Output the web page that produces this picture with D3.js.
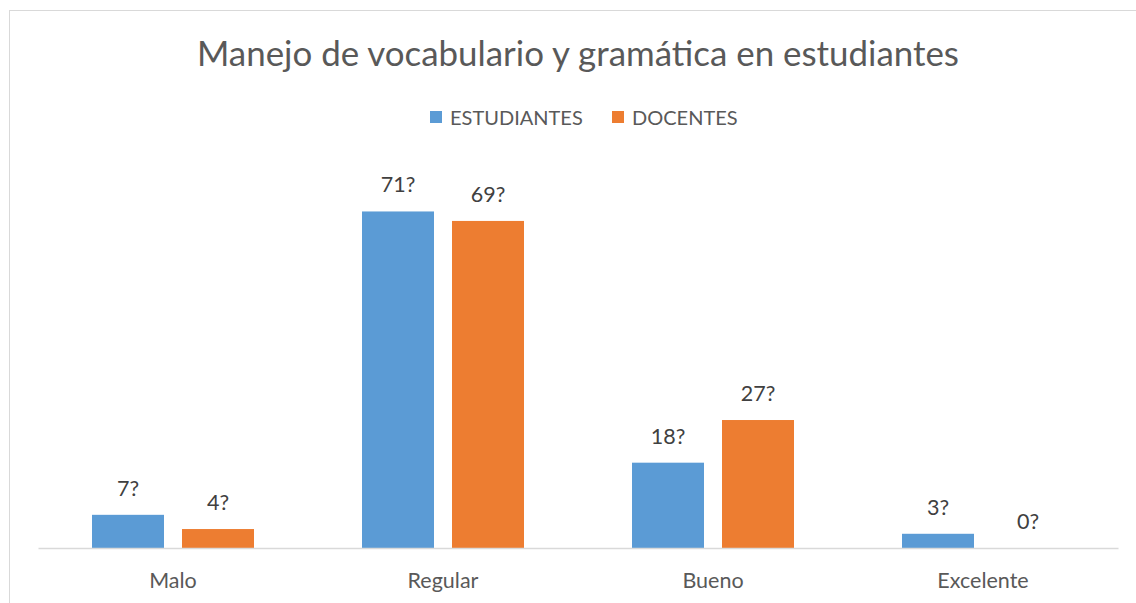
<!DOCTYPE html>
<html>
<head>
<meta charset="utf-8">
<script src="https://cdn.jsdelivr.net/npm/d3@7"></script>
<style>
  body { margin: 0; background: #fff; }
  svg { display: block; font-family: Lato, "Open Sans", sans-serif; }
</style>
</head>
<body>
<svg id="chart" width="1136" height="603"></svg>
<script>
const categories = ["Malo", "Regular", "Bueno", "Excelente"]
const seriesNames = ["ESTUDIANTES", "DOCENTES"]
const estudiantes = [7, 71, 18, 3]
const docentes = [4, 69, 27, 0]
const colors = ["#5b9bd5", "#ed7d31"]

const svg = d3.select("#chart")

// frame of the chart area (runs off the right and bottom of the picture)
svg.append("rect")
    .attr("x", 9.5).attr("y", 10.5)
    .attr("width", 1300).attr("height", 700)
    .attr("fill", "none")
    .attr("stroke", "#d9d9d9")

svg.append("text")
    .attr("x", 578).attr("y", 66)
    .attr("text-anchor", "middle")
    .attr("font-size", 34.9)
    .attr("fill", "#595959")
    .text("Manejo de vocabulario y gramática en estudiantes")

const x = d3.scaleBand()
    .domain(categories)
    .range([38, 1118])

const xs = d3.scaleBand()
    .domain(seriesNames)
    .range([54, 216])
    .paddingInner(0.2)

const y = d3.scaleLinear()
    .domain([0, 80])
    .range([548, 548 - 80 * 4.74])

const rows = categories.map((c, i) => ({ cat: c, vals: [estudiantes[i], docentes[i]] }))

const groups = svg.selectAll(".cat")
    .data(rows)
    .join("g")
    .attr("class", "cat")
    .attr("transform", d => `translate(${x(d.cat)},0)`)

groups.selectAll("rect")
    .data(d => d.vals.map((v, j) => ({ name: seriesNames[j], v: v, j: j })))
    .join("rect")
    .attr("x", d => xs(d.name))
    .attr("width", xs.bandwidth())
    .attr("y", d => y(d.v))
    .attr("height", d => y(0) - y(d.v))
    .attr("fill", d => colors[d.j])

groups.selectAll(".lbl")
    .data(d => d.vals.map((v, j) => ({ name: seriesNames[j], v: v })))
    .join("text")
    .attr("class", "lbl")
    .attr("x", d => xs(d.name) + xs.bandwidth() / 2)
    .attr("y", d => y(d.v) - 19)
    .attr("text-anchor", "middle")
    .attr("font-size", 21.5)
    .attr("fill", "#404040")
    .text(d => d.v + "?")

// category axis
const axis = svg.append("g")
    .attr("transform", `translate(0,${y(0)})`)
    .call(d3.axisBottom(x).tickSize(0).tickPadding(25))
axis.select(".domain").attr("stroke", "#d9d9d9").attr("stroke-width", 1.5)
axis.selectAll("text")
    .attr("font-family", "Lato, 'Open Sans', sans-serif")
    .attr("font-size", 21.5)
    .attr("fill", "#595959")

// legend
const legendX = [430, 612]
const leg = svg.selectAll(".leg")
    .data(seriesNames)
    .join("g")
    .attr("class", "leg")
    .attr("transform", (d, i) => `translate(${legendX[i]},111)`)
leg.append("rect")
    .attr("width", 12).attr("height", 12)
    .attr("fill", (d, i) => colors[i])
leg.append("text")
    .attr("x", 20).attr("y", 13.5)
    .attr("font-size", 20)
    .attr("fill", "#595959")
    .text(d => d)
</script>
</body>
</html>
